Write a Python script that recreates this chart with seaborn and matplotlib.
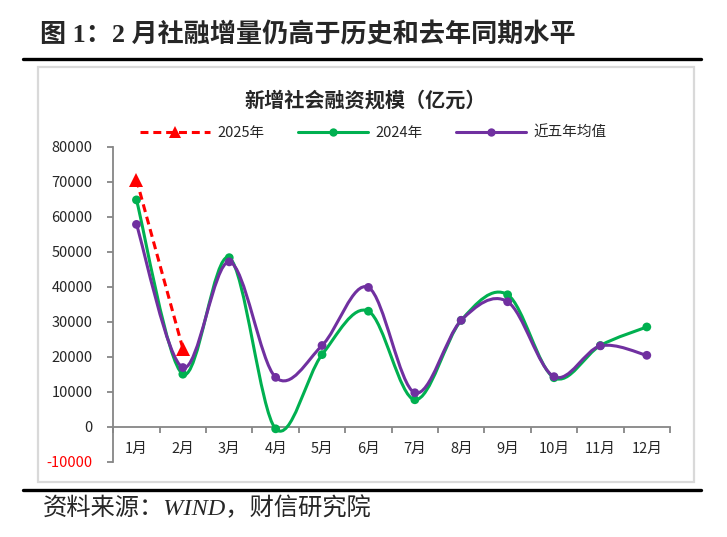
import numpy as np
import matplotlib
matplotlib.use('Agg')
import matplotlib.pyplot as plt
import seaborn as sns
from matplotlib.path import Path
from matplotlib.patches import PathPatch, Rectangle
from matplotlib.lines import Line2D

# data (亿元)
months = ['1月', '2月', '3月', '4月', '5月', '6月', '7月', '8月', '9月', '10月', '11月', '12月']
y2025 = [70600, 22300]
y2024 = [64800, 15000, 48300, -600, 20600, 33000, 7700, 30400, 37700, 14000, 23200, 28500]
avg5 = [57800, 16900, 47100, 14100, 23200, 39800, 9700, 30400, 35700, 14300, 23100, 20400]
yticks = [-10000, 0, 10000, 20000, 30000, 40000, 50000, 60000, 70000, 80000]

RED = '#FF0000'
GREEN = '#00B050'
PURPLE = '#7030A0'
AXIS_GRAY = '#868686'

sns.set_theme(style='white')
plt.rcParams['font.family'] = ['Noto Sans CJK SC', 'DejaVu Sans']
plt.rcParams['axes.unicode_minus'] = False


def smooth_path(xs, ys):
    # Excel-like smoothed line: cubic bezier segments through every point
    pts = np.column_stack([xs, ys]).astype(float)
    n = len(pts)
    verts = [pts[0]]
    codes = [Path.MOVETO]
    for i in range(n - 1):
        p0 = pts[i - 1] if i > 0 else pts[i]
        p1 = pts[i]
        p2 = pts[i + 1]
        p3 = pts[i + 2] if i + 2 < n else pts[i + 1]
        c1 = p1 + (p2 - p0) / 6.0
        c2 = p2 - (p3 - p1) / 6.0
        verts += [c1, c2, p2]
        codes += [Path.CURVE4] * 3
    return Path(verts, codes)


fig = plt.figure(figsize=(7.27, 5.37), dpi=100)
ax = fig.add_axes([0.1558, 0.1402, 0.7658, 0.5866])

x = np.arange(len(months))

# smoothed lines
ax.add_patch(PathPatch(smooth_path(x, y2024), fill=False, edgecolor=GREEN, lw=2.2,
                       capstyle='round', joinstyle='round', zorder=3))
ax.add_patch(PathPatch(smooth_path(x, avg5), fill=False, edgecolor=PURPLE, lw=2.2,
                       capstyle='round', joinstyle='round', zorder=4))

# markers
sns.scatterplot(x=x, y=y2024, ax=ax, color=GREEN, s=40, edgecolor='none', zorder=5, legend=False)
sns.scatterplot(x=x, y=avg5, ax=ax, color=PURPLE, s=40, edgecolor='none', zorder=6, legend=False)
sns.lineplot(x=x[:len(y2025)], y=y2025, ax=ax, color=RED, lw=2.2, dashes=False,
             linestyle=(0, (2.6, 1.6)), marker='^', markersize=10, markeredgewidth=0,
             zorder=7, legend=False)

ax.set_xlim(-0.5, len(months) - 0.5)
ax.set_ylim(-10000, 80000)

# axes styling
for side in ['top', 'right']:
    ax.spines[side].set_visible(False)
for side in ['left', 'bottom']:
    ax.spines[side].set_color(AXIS_GRAY)
    ax.spines[side].set_linewidth(1.3)
ax.spines['bottom'].set_position(('data', 0))

ax.set_yticks(yticks)
ax.set_yticklabels([str(v) for v in yticks], fontsize=10.5)
ax.tick_params(axis='y', direction='out', length=4, width=1.3, color=AXIS_GRAY, pad=11, left=True)
for lab in ax.get_yticklabels():
    if lab.get_text().startswith('-'):
        lab.set_color(RED)

ax.set_xticks(np.arange(len(months) + 1) - 0.5)
ax.set_xticklabels([])
ax.set_xticks(x, minor=True)
ax.set_xticklabels(months, minor=True, fontsize=10.5)
ax.tick_params(axis='x', which='major', direction='out', length=4, width=1.3, color=AXIS_GRAY, bottom=True)
ax.tick_params(axis='x', which='minor', length=0, pad=11)
ax.set_xlabel('')
ax.set_ylabel('')
ax.grid(False)

# legend
handles = [
    Line2D([], [], color=RED, lw=2.2, linestyle=(0, (2.6, 1.6)), marker='^', markersize=8.5, markeredgewidth=0),
    Line2D([], [], color=GREEN, lw=2.2, marker='o', markersize=6, markeredgewidth=0),
    Line2D([], [], color=PURPLE, lw=2.2, marker='o', markersize=6, markeredgewidth=0),
]
fig.legend(handles, ['2025年', '2024年', '近五年均值'], loc='center', bbox_to_anchor=(0.513, 0.752),
           ncol=3, frameon=False, fontsize=10.5, handlelength=4.8, handletextpad=0.5,
           columnspacing=2.3)

# titles, frame, rules, source
fig.text(0.055, 0.935, '图 1：2 月社融增量仍高于历史和去年同期水平', fontsize=18.8, fontweight='bold',
         family=['Liberation Serif', 'Noto Sans CJK SC'], ha='left', va='center')
fig.text(0.503, 0.814, '新增社会融资规模（亿元）', fontsize=14.5, fontweight='bold', ha='center', va='center')

fig.add_artist(Rectangle((0.0519, 0.1030), 0.9031, 0.7728, transform=fig.transFigure,
                         fill=False, edgecolor='#D9D9D9', lw=1.6))
fig.add_artist(Line2D([0.0316, 0.964], [0.8896, 0.8896], transform=fig.transFigure, color='black', lw=2.4))
fig.add_artist(Line2D([0.0316, 0.964], [0.0875, 0.0875], transform=fig.transFigure, color='black', lw=2.4))

fig.text(0.059, 0.054, '资料来源：WIND，财信研究院', fontsize=17.5, style='italic',
         family=['Liberation Serif', 'Noto Sans CJK SC'], ha='left', va='center')

fig.savefig('out.png', dpi=100)
